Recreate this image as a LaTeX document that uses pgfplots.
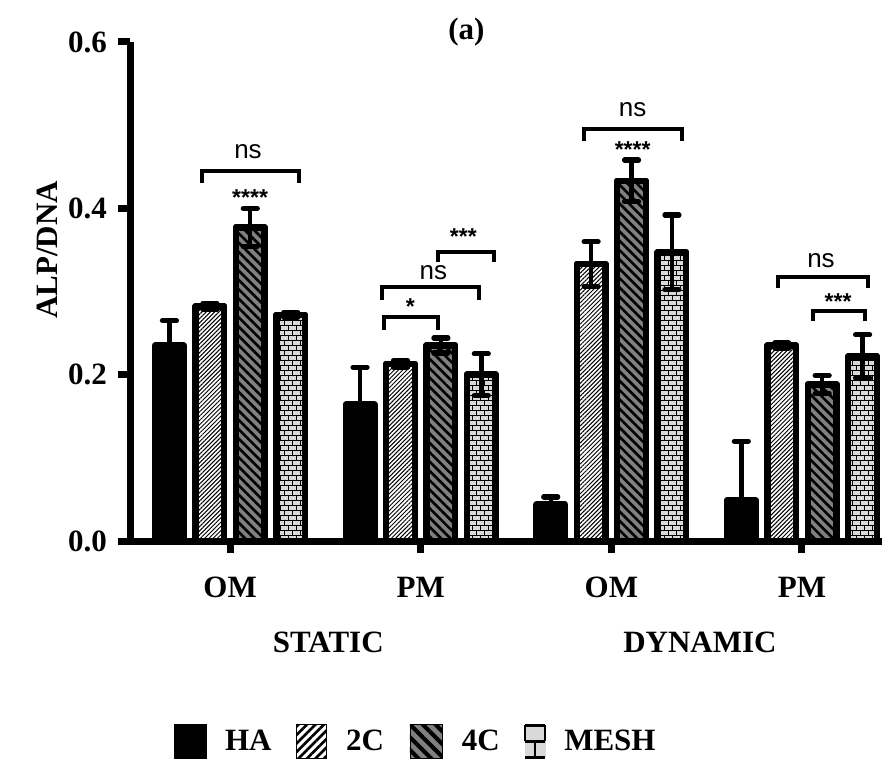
\documentclass[border=0pt]{standalone}
\usepackage{pgfplots}
\pgfplotsset{compat=1.18}
\usepackage{fontspec}
\setmainfont{Liberation Serif}
\newfontfamily\sansf{Liberation Sans}
\usetikzlibrary{patterns,patterns.meta}
\pgfdeclarepatternformonly{smallbricks}{\pgfpoint{-0.3pt}{-0.3pt}}{\pgfpoint{4.3pt}{5.3pt}}{\pgfpoint{4pt}{5pt}}{%
  \pgfsetlinewidth{0.45pt}%
  \pgfpathmoveto{\pgfpoint{0pt}{0pt}}\pgfpathlineto{\pgfpoint{4pt}{0pt}}%
  \pgfpathmoveto{\pgfpoint{0pt}{2.5pt}}\pgfpathlineto{\pgfpoint{4pt}{2.5pt}}%
  \pgfpathmoveto{\pgfpoint{0pt}{0pt}}\pgfpathlineto{\pgfpoint{0pt}{2.5pt}}%
  \pgfpathmoveto{\pgfpoint{2pt}{2.5pt}}\pgfpathlineto{\pgfpoint{2pt}{5pt}}%
  \pgfusepath{stroke}}
\newcommand\lab{\fontsize{15.5}{18}\selectfont\bfseries}
\newcommand\nsf{\fontsize{13}{15}\selectfont\sansf}
\newcommand\asf{\fontsize{11.5}{13}\selectfont\sansf\bfseries}
\definecolor{fourc}{RGB}{128,128,128}
\definecolor{meshc}{RGB}{217,217,217}
\pgfplotsset{
  mybar/.style={draw=black, line width=3.2pt, line join=round, forget plot,
    /pgfplots/error bars/y dir=both, /pgfplots/error bars/y explicit,
    /pgfplots/error bars/error bar style={line width=2.2pt, black},
    /pgfplots/error bars/error mark options={rotate=90, mark size=3.5pt, line width=2.6pt, line cap=round, black}},
}
\begin{document}
\begin{tikzpicture}
\begin{axis}[
  name=ax,
  scale only axis, width=376pt, height=249.5pt,
  xmin=-0.525, xmax=3.42, ymin=0, ymax=0.6,
  axis x line=bottom, axis y line=left,
  axis line style={line width=3.5pt, -},
  axis on top,
  clip=false,
  ybar, bar width=0.15,
  xtick={0,1,2,3}, xticklabels={OM,PM,OM,PM},
  ytick={0,0.2,0.4,0.6},
  minor tick num=0,
  /pgf/number format/.cd, fixed, fixed zerofill, precision=1, assume math mode=true,
  /pgfplots/.cd,
  tick style={line width=3.5pt, black},
  major tick length=6pt, tick align=outside,
  xticklabel style={font=\lab, anchor=base, yshift=-22pt},
  yticklabel style={font=\lab, xshift=-2pt},
  ylabel={ALP/DNA},
  every axis y label/.style={at={(axis cs:-0.96,0.35)}, rotate=90, anchor=center, font=\lab},
  legend columns=4,
  legend style={at={(axis cs:0.98,-0.241)}, anchor=center, draw=none, fill=none, font=\lab,
    /tikz/every even column/.append style={column sep=10pt},
    /tikz/every odd column/.append style={column sep=7pt}},
]
\addplot[mybar, fill=black, bar shift=-0.318, /pgfplots/error bars/y dir=plus] coordinates {
  (0,0.235) +- (0,0.030)
  (1,0.164) +- (0,0.045)
  (2,0.044) +- (0,0.009)
  (3,0.049) +- (0,0.071)
};
\addplot[mybar, fill=white, bar shift=-0.106,
  postaction={pattern={Lines[angle=45,distance=1.5pt,line width=0.5pt]}, pattern color=black}] coordinates {
  (0,0.282) +- (0,0.004)
  (1,0.213) +- (0,0.004)
  (2,0.333) +- (0,0.027)
  (3,0.235) +- (0,0.003)
};
\addplot[mybar, fill=fourc, bar shift=0.106,
  postaction={pattern={Lines[angle=-45,distance=3.3pt,line width=1.3pt]}, pattern color=black}] coordinates {
  (0,0.377) +- (0,0.023)
  (1,0.235) +- (0,0.009)
  (2,0.433) +- (0,0.025)
  (3,0.188) +- (0,0.011)
};
\addplot[mybar, fill=meshc, bar shift=0.318,
  postaction={pattern=smallbricks, pattern color=black}] coordinates {
  (0,0.272) +- (0,0.003)
  (1,0.200) +- (0,0.025)
  (2,0.347) +- (0,0.045)
  (3,0.222) +- (0,0.026)
};
\addlegendimage{legend image code/.code={\fill[black] (0pt,-8.5pt) rectangle (16pt,8.5pt);}}
\addlegendentry{HA}
\addlegendimage{legend image code/.code={\fill[white] (0pt,-8.5pt) rectangle (15pt,8.5pt);
    \fill[pattern={Lines[angle=45,distance=3pt,line width=1.3pt]}, pattern color=black] (0pt,-8.5pt) rectangle (15pt,8.5pt);}}
\addlegendentry{2C}
\addlegendimage{legend image code/.code={\fill[fourc] (0pt,-8.5pt) rectangle (16pt,8.5pt);
    \fill[pattern={Lines[angle=-45,distance=4.5pt,line width=2pt]}, pattern color=black] (0pt,-8.5pt) rectangle (16pt,8.5pt);}}
\addlegendentry{4C}
\addlegendimage{legend image code/.code={\fill[meshc] (1pt,-8pt) rectangle (11pt,8pt);
    \draw[line width=1.2pt, black] (1pt,-8pt) -- (11pt,-8pt) (1pt,0pt) -- (11pt,0pt) (1pt,8pt) -- (11pt,8pt)
      (6pt,-8pt) -- (6pt,0pt) (1pt,0pt) -- (1pt,8pt) (11pt,0pt) -- (11pt,8pt);}}
\addlegendentry{MESH}
% significance brackets
\begin{scope}[line width=2pt]
\draw (axis cs:-0.147,0.431) -- (axis cs:-0.147,0.445) -- (axis cs:0.363,0.445) -- (axis cs:0.363,0.431);
\draw (axis cs:1.093,0.335) -- (axis cs:1.093,0.348) -- (axis cs:1.387,0.348) -- (axis cs:1.387,0.335);
\draw (axis cs:0.799,0.290) -- (axis cs:0.799,0.306) -- (axis cs:1.308,0.306) -- (axis cs:1.308,0.290);
\draw (axis cs:0.809,0.254) -- (axis cs:0.809,0.269) -- (axis cs:1.093,0.269) -- (axis cs:1.093,0.254);
\draw (axis cs:1.855,0.481) -- (axis cs:1.855,0.495) -- (axis cs:2.370,0.495) -- (axis cs:2.370,0.481);
\draw (axis cs:2.874,0.304) -- (axis cs:2.874,0.318) -- (axis cs:3.347,0.318) -- (axis cs:3.347,0.304);
\draw (axis cs:3.058,0.264) -- (axis cs:3.058,0.277) -- (axis cs:3.331,0.277) -- (axis cs:3.331,0.264);
\end{scope}
\node[anchor=base, font=\nsf] at (axis cs:0.094,0.460) {ns};
\node[anchor=base, font=\asf] at (axis cs:0.105,0.404) {****};
\node[anchor=base, font=\asf] at (axis cs:1.224,0.356) {***};
\node[anchor=base, font=\nsf] at (axis cs:1.067,0.314) {ns};
\node[anchor=base, font=\asf] at (axis cs:0.946,0.272) {*};
\node[anchor=base, font=\nsf] at (axis cs:2.112,0.510) {ns};
\node[anchor=base, font=\asf] at (axis cs:2.112,0.461) {****};
\node[anchor=base, font=\nsf] at (axis cs:3.100,0.329) {ns};
\node[anchor=base, font=\asf] at (axis cs:3.190,0.278) {***};
% group labels and title
\node[anchor=base, font=\lab] at ([yshift=-55.5pt]axis cs:0.515,0) {STATIC};
\node[anchor=base, font=\lab] at ([yshift=-55.5pt]axis cs:2.465,0) {DYNAMIC};
\node[anchor=base, font=\lab] at (axis cs:1.24,0.6036) {(a)};
\end{axis}
\pgfresetboundingbox
\path ([xshift=-65pt,yshift=-109.5pt]ax.south west) rectangle ([yshift=21pt]ax.north east);
\end{tikzpicture}
\end{document}
